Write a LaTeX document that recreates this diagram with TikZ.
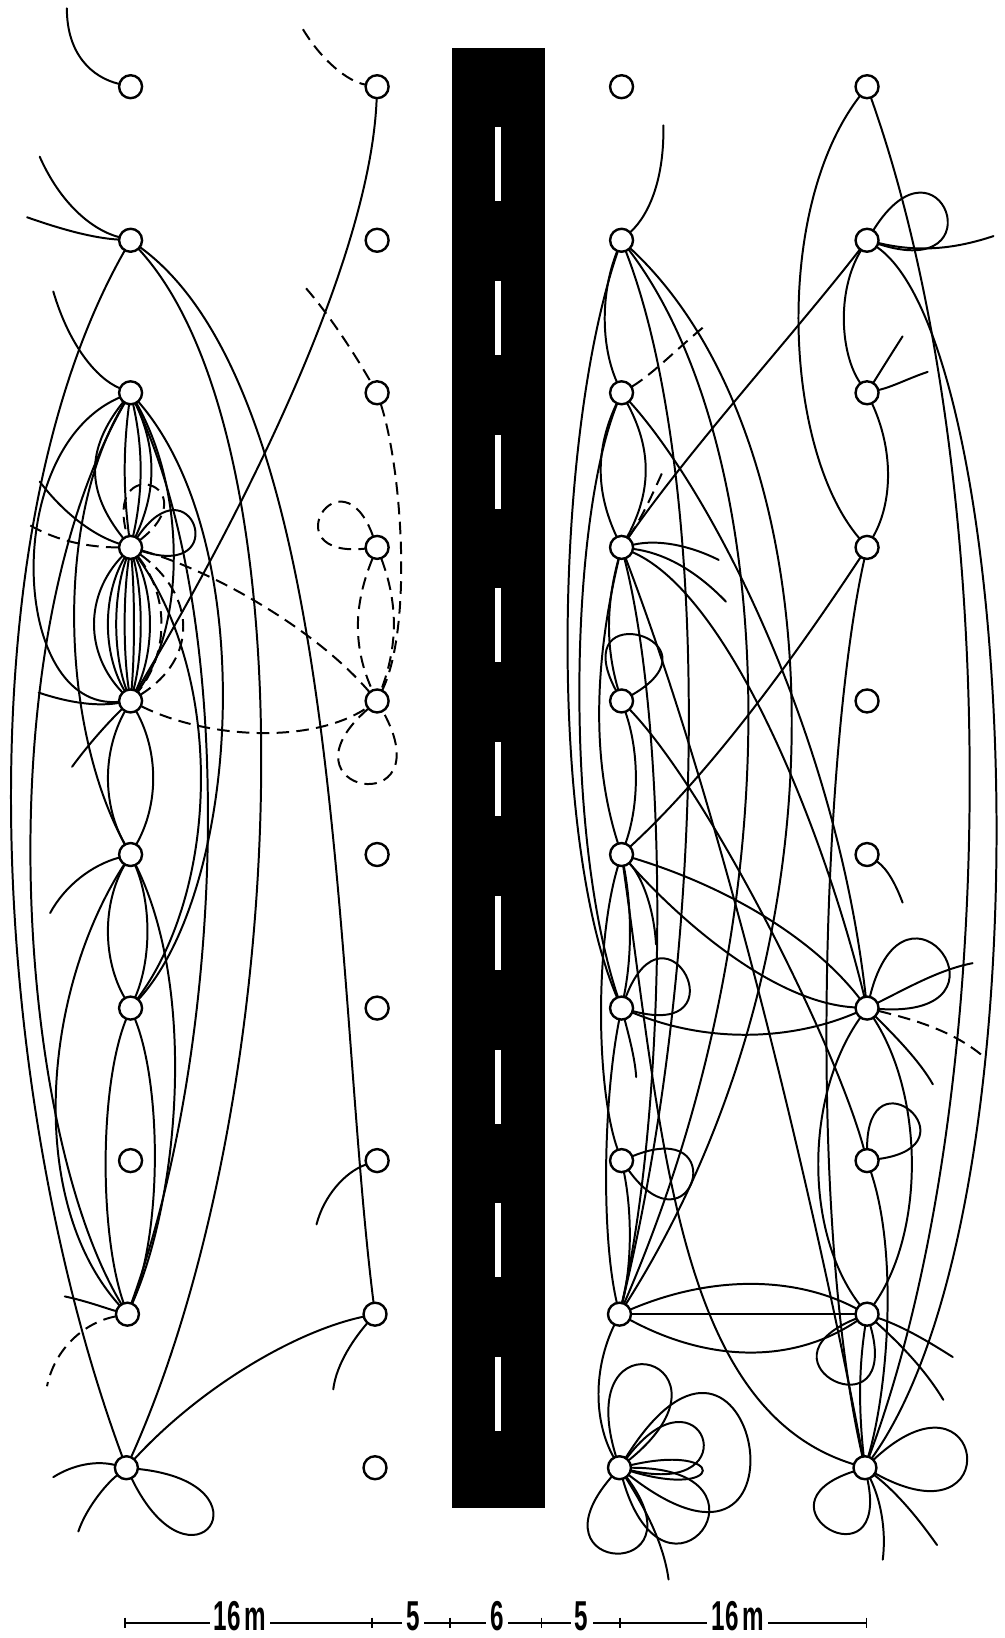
\documentclass[tikz,border=0pt]{standalone}
\usepackage{fontspec}
\setmainfont{Liberation Sans}
\usepackage{graphicx}
\usetikzlibrary{calc}
\tikzset{
  stn/.style={circle, minimum size=23pt, inner sep=0pt, draw=none},
  ln/.style={line width=1.9pt, line cap=round},
  dsh/.style={line width=1.9pt, dash pattern=on 12pt off 7pt},
  ring/.style={line width=2.3pt, fill=white},
  lbl/.style={fill=white, inner xsep=4pt, inner ysep=0pt, font=\fontsize{40}{40}\selectfont\bfseries},
  barln/.style={line width=1.3pt}
}
% petal loop: [style]{node}{axis angle}{length}{half opening}
\newcommand\petal[5][ln]{%
  \draw[#1] (#2) .. controls ($(#2)+({#3+#5}:{#4/(0.75*cos(#5))})$)
    and ($(#2)+({#3-#5}:{#4/(0.75*cos(#5))})$) .. (#2);}
\begin{document}
\begin{tikzpicture}[x=1pt,y=-1pt]
\useasboundingbox (0,0) rectangle (962,1568);
% ---------- stations ----------
\foreach \i/\y in {1/83,2/230,3/376,4/524,5/671,6/818,7/965,8/1111}{
  \node[stn] (a\i) at (125,\y) {};
  \node[stn] (b\i) at (361,\y) {};
  \node[stn] (c\i) at (595,\y) {};
  \node[stn] (d\i) at (830,\y) {};
}
\node[stn] (a9) at (122,1258) {};
\node[stn] (a10) at (121,1405) {};
\node[stn] (b9) at (359,1258) {};
\node[stn] (b10) at (359,1405) {};
\node[stn] (c9) at (593,1258) {};
\node[stn] (c10) at (593,1405) {};
\node[stn] (d9) at (830,1258) {};
\node[stn] (d10) at (828,1405) {};
% ---------- road ----------
\fill[black] (432.4,46.2) rectangle (521.7,1443.5);
\foreach \k in {0,...,8}
  \fill[white] (473.6,{121.6+147.2*\k}) rectangle (479.2,{192.4+147.2*\k});
% ---------- left side: stubs ----------
\draw[ln] (64,8) .. controls (64,52) and (88,74) .. (a1);
\draw[dsh] (290,28) .. controls (308,58) and (333,78) .. (b1);
\draw[ln] (38,150) .. controls (58,195) and (88,220) .. (a2);
\draw[ln] (26,208) .. controls (60,220) and (90,228) .. (a2);
\draw[ln] (51,279) .. controls (66,330) and (92,362) .. (a3);
\draw[dsh] (293,276) .. controls (318,305) and (340,340) .. (b3);
\draw[ln] (38,461) .. controls (60,490) and (88,512) .. (a4);
\draw[dsh] (29,503) .. controls (55,518) and (85,524) .. (a4);
\draw[ln] (37,663) .. controls (70,674) and (95,676) .. (a5);
\draw[ln] (a5) .. controls (105,690) and (85,712) .. (69,734);
\draw[ln] (48,874) .. controls (62,848) and (88,828) .. (a6);
\draw[ln] (62,1241) .. controls (85,1246) and (100,1252) .. (a9);
\draw[dsh] (a9) .. controls (80,1266) and (52,1292) .. (45,1327);
\draw[ln] (51,1414) .. controls (70,1402) and (92,1398) .. (a10);
\draw[ln] (a10) .. controls (100,1422) and (82,1445) .. (75,1466);
\draw[ln] (b8) .. controls (330,1122) and (310,1145) .. (303,1172);
\draw[ln] (b9) .. controls (340,1280) and (322,1305) .. (319,1330);
% ---------- left side: loops ----------
\petal{a4}{-19}{62}{37}
\petal[dsh]{a4}{-72}{60}{34}
\petal[dsh]{b4}{-148}{60}{38}
\petal[dsh]{b5}{100}{78}{39}
\petal{a10}{35}{95}{29}
% ---------- left side: dashed links ----------
\draw[dsh] (a4) .. controls (200,545) and (300,600) .. (b5);
\draw[dsh] (a5) .. controls (200,708) and (300,712) .. (b5);
\draw[dsh] (b3) .. controls (385,450) and (395,600) .. (b5);
\draw[dsh] (b4) .. controls (338,580) and (338,620) .. (b5);
\draw[dsh] (b4) .. controls (382,580) and (380,620) .. (b5);
\draw[dsh] (a4) .. controls (162,570) and (162,625) .. (a5);
\draw[dsh] (a4) .. controls (188,570) and (190,630) .. (a5);
% ---------- left side: solid links ----------
\draw[ln] (b1) .. controls (355,240) and (245,470) .. (a5);
\draw[ln] (a2) .. controls (-40,520) and (-10,1050) .. (a10);
\draw[ln] (a3) .. controls (-15,620) and (15,1080) .. (a9);
\draw[ln] (a3) .. controls (0,430) and (10,680) .. (a5);
\draw[ln] (a3) .. controls (50,500) and (60,700) .. (a6);
\foreach \cx in {82,118,137,150}
  \draw[ln] (a3) .. controls (\cx,430) and (\cx,470) .. (a4);
\draw[ln] (a3) .. controls (178,470) and (178,600) .. (a5);
\draw[ln] (a3) .. controls (250,520) and (230,850) .. (a7);
\draw[ln] (a3) .. controls (230,600) and (215,1000) .. (a9);
\foreach \cx in {81,98,108,118,129,137,148}
  \draw[ln] (a4) .. controls (\cx,570) and (\cx,625) .. (a5);
\foreach \cx in {98,152}
  \draw[ln] (a5) .. controls (\cx,720) and (\cx,770) .. (a6);
\foreach \cx in {98,145}
  \draw[ln] (a6) .. controls (\cx,865) and (\cx,918) .. (a7);
\draw[ln] (a7) .. controls (95,1040) and (95,1180) .. (a9);
\draw[ln] (a7) .. controls (155,1040) and (155,1180) .. (a9);
\draw[ln] (a6) .. controls (40,950) and (25,1150) .. (a9);
\draw[ln] (a6) .. controls (190,950) and (170,1150) .. (a9);
\draw[ln] (a4) .. controls (215,650) and (210,850) .. (a7);
\draw[ln] (a2) .. controls (300,420) and (280,1050) .. (a10);
\draw[ln] (a2) .. controls (330,380) and (320,950) .. (b9);
\draw[ln] (a10) .. controls (190,1330) and (280,1275) .. (b9);
% ---------- right side: stubs ----------
\draw[ln] (635,120) .. controls (636,170) and (622,205) .. (c2);
\draw[ln] (d2) .. controls (880,242) and (915,238) .. (951,226);
\draw[ln] (d3) .. controls (845,352) and (855,336) .. (864,322);
\draw[ln] (d3) .. controls (855,370) and (870,362) .. (888,356);
\draw[dsh] (c3) .. controls (625,358) and (650,332) .. (676,311);
\draw[dsh] (c4) .. controls (615,495) and (626,470) .. (635,450);
\draw[ln] (c4) .. controls (630,516) and (660,522) .. (688,536);
\draw[ln] (c4) .. controls (640,530) and (670,550) .. (695,576);
\draw[ln] (c6) .. controls (615,840) and (626,870) .. (628,904);
\draw[ln] (c7) .. controls (603,995) and (608,1015) .. (609,1031);
\draw[ln] (d6) .. controls (850,832) and (858,848) .. (864,864);
\draw[ln] (d7) .. controls (870,945) and (900,928) .. (931,922);
\draw[dsh] (d7) .. controls (870,975) and (910,985) .. (941,1011);
\draw[ln] (d7) .. controls (855,990) and (880,1015) .. (893,1038);
\draw[ln] (d9) .. controls (865,1270) and (890,1285) .. (912,1299);
\draw[ln] (d9) .. controls (860,1285) and (885,1310) .. (903,1340);
\draw[ln] (d10) .. controls (845,1440) and (848,1470) .. (845,1493);
\draw[ln] (d10) .. controls (860,1430) and (880,1455) .. (897,1479);
\draw[ln] (c10) .. controls (615,1440) and (635,1475) .. (640,1512);
% ---------- right side: loops ----------
\petal{d2}{-20}{78}{38}
\petal{c5}{-74}{63}{44}
\petal{c7}{-27}{67}{42}
\petal{c8}{16}{68}{38}
\petal{d7}{-36}{87}{40}
\petal{d8}{-49}{61}{41}
\petal{d9}{116}{69}{42}
\petal{d10}{-7}{96}{36}
\petal{d10}{120}{66}{42}
\petal{c10}{-73}{100}{34}
\petal{c10}{-10}{124}{48}
\petal{c10}{-20}{82}{33}
\petal{c10}{2}{77}{15}
\petal{c10}{37}{97}{37}
\petal{c10}{92}{80}{39}
% ---------- right side: links ----------
\draw[ln] (d2) .. controls (760,320) and (660,430) .. (c4);
\draw[ln] (d1) .. controls (740,200) and (750,430) .. (d4);
\draw[ln] (d1) .. controls (960,450) and (960,1050) .. (d10);
\draw[ln] (d2) .. controls (975,330) and (1010,1150) .. (d10);
\draw[ln] (d3) .. controls (855,430) and (855,480) .. (d4);
\draw[ln] (d2) .. controls (800,280) and (805,340) .. (d3);
\draw[ln] (d4) .. controls (760,630) and (680,740) .. (c6);
\draw[ln] (d4) .. controls (790,700) and (770,1150) .. (d10);
\draw[ln] (c2) .. controls (575,280) and (575,330) .. (c3);
\draw[ln] (c2) .. controls (530,420) and (525,800) .. (c7);
\draw[ln] (c3) .. controls (545,500) and (540,800) .. (c7);
\draw[ln] (c3) .. controls (570,430) and (570,470) .. (c4);
\draw[ln] (c3) .. controls (624,430) and (624,470) .. (c4);
\draw[ln] (c4) .. controls (580,580) and (580,620) .. (c5);
\draw[ln] (c4) .. controls (565,650) and (570,740) .. (c6);
\draw[ln] (c5) .. controls (612,720) and (612,770) .. (c6);
\draw[ln] (c6) .. controls (605,870) and (605,915) .. (c7);
\draw[ln] (c6) .. controls (570,900) and (570,1040) .. (c8);
\draw[ln] (c7) .. controls (578,1050) and (575,1180) .. (c9);
\draw[ln] (c8) .. controls (605,1160) and (605,1210) .. (c9);
\draw[ln] (c9) .. controls (568,1310) and (568,1360) .. (c10);
\draw[ln] (c9) .. controls (680,1221) and (760,1221) .. (d9);
\draw[ln] (c9) -- (d9);
\draw[ln] (c9) .. controls (680,1305) and (760,1305) .. (d9);
\draw[ln] (d7) .. controls (770,1050) and (770,1180) .. (d9);
\draw[ln] (d7) .. controls (885,1050) and (885,1180) .. (d9);
\draw[ln] (d8) .. controls (860,1200) and (850,1330) .. (d10);
\draw[ln] (d9) .. controls (822,1310) and (822,1350) .. (d10);
\draw[ln] (c2) .. controls (680,450) and (680,900) .. (c9);
\draw[ln] (c2) .. controls (740,420) and (770,850) .. (c9);
\draw[ln] (c2) .. controls (800,420) and (820,900) .. (c9);
\draw[ln] (c3) .. controls (680,470) and (800,700) .. (d7);
\draw[ln] (c4) .. controls (700,570) and (790,800) .. (d7);
\draw[ln] (c4) .. controls (700,800) and (790,1200) .. (d10);
\draw[ln] (c4) .. controls (640,700) and (640,1050) .. (c9);
\draw[ln] (c6) .. controls (700,850) and (780,900) .. (d7);
\draw[ln] (c6) .. controls (650,880) and (740,960) .. (d7);
\draw[ln] (c7) .. controls (680,1000) and (760,995) .. (d7);
\draw[ln] (c5) .. controls (680,760) and (800,1000) .. (d8);
\draw[ln] (c6) .. controls (635,1100) and (650,1350) .. (d10);
% ---------- station rings on top ----------
\foreach \c in {a,b,c,d}
  \foreach \i in {1,...,10}
    \draw[ring] (\c\i) circle (11pt);
% ---------- scale bar ----------
\coordinate (sL) at (119.7,1553.6);
\coordinate (sR) at (829.6,1553.6);
\draw[barln] (sL) -- (sR);
\foreach \x in {119.7,356,430.7,518.5,593.5,829.6}
  \draw[barln] (\x,1548.5) -- (\x,1558.7);
\node[lbl, anchor=base] (s16a) at (229.7,1561) {\scalebox{0.58}[1]{16\,m}};
\node[lbl, anchor=base] (s5a) at (395.3,1561) {\scalebox{0.58}[1]{5}};
\node[lbl, anchor=base] (s6) at (475.7,1561) {\scalebox{0.58}[1]{6}};
\node[lbl, anchor=base] (s5b) at (556.8,1561) {\scalebox{0.58}[1]{5}};
\node[lbl, anchor=base] (s16b) at (706.4,1561) {\scalebox{0.58}[1]{16\,m}};
\end{tikzpicture}
\end{document}
